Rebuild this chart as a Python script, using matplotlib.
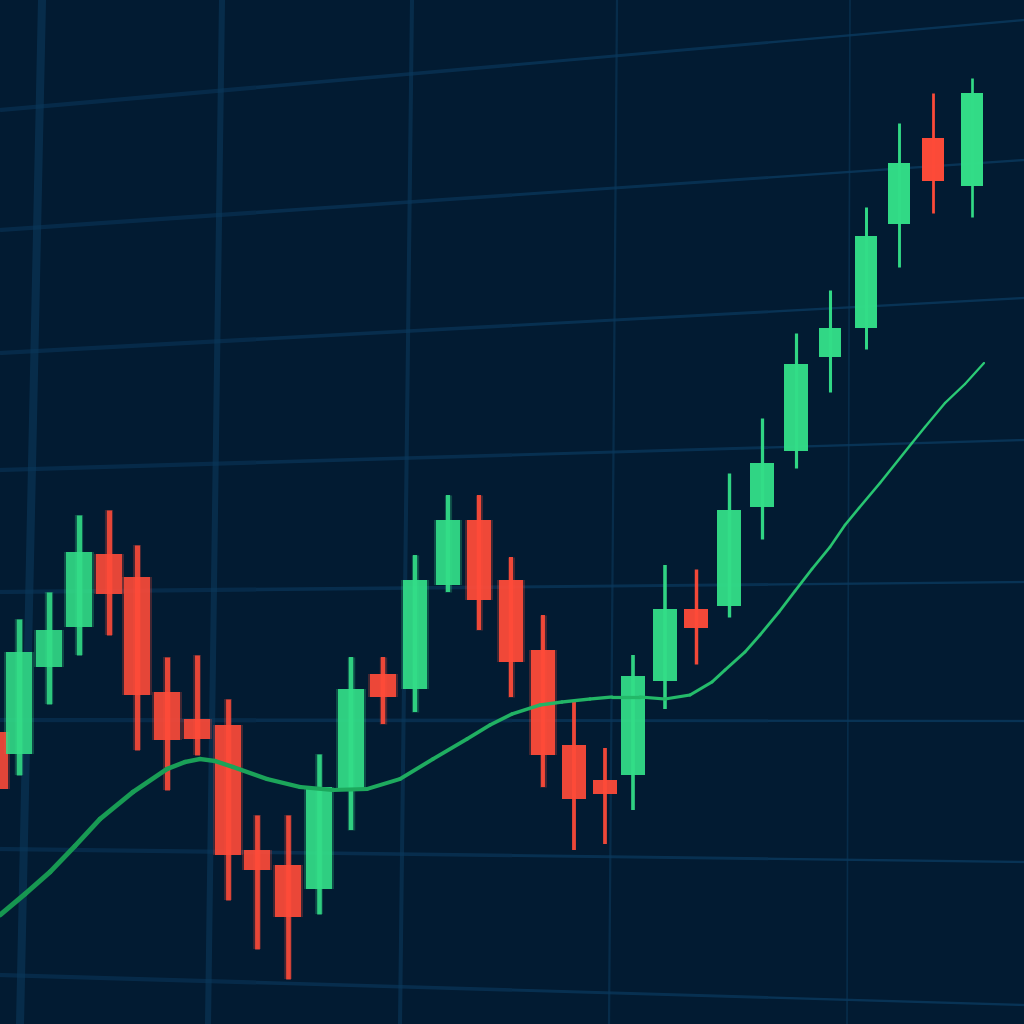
import numpy as np
import matplotlib
matplotlib.use("Agg")
import matplotlib.pyplot as plt
from matplotlib.collections import LineCollection
from matplotlib.colors import to_rgba

# candle data (x position, open, close, high, low)
x_pos = [-6, 19, 49, 79, 109, 137, 167, 197, 228, 257, 288, 319, 351, 383, 415, 448,
         479, 511, 543, 574, 605, 633, 665, 696, 729, 762, 796, 830, 866, 899, 933, 972]
opens = [292, 270, 357, 397, 470, 447, 332, 305, 299, 174, 159, 135, 234, 350, 335, 439,
         504, 444, 374, 279, 244, 249, 343, 415, 418, 517, 573, 667, 696, 800, 886, 838]
closes = [235, 372, 394, 472, 430, 329, 284, 285, 169, 154, 107, 237, 335, 327, 444, 504,
          424, 362, 269, 225, 230, 348, 415, 396, 514, 561, 660, 696, 788, 861, 843, 931]
highs = [319, 405, 432, 509, 514, 479, 367, 369, 325, 209, 209, 270, 367, 367, 469, 529,
         529, 467, 409, 324, 276, 369, 459, 455, 551, 606, 691, 734, 817, 901, 931, 946]
lows = [224, 249, 320, 369, 389, 274, 234, 269, 124, 75, 45, 110, 194, 300, 312, 432,
        394, 327, 237, 174, 180, 214, 315, 360, 407, 485, 556, 632, 675, 757, 811, 807]

# moving average line
ma_x = [0, 25, 50, 75, 100, 133, 167, 185, 200, 215, 233, 267, 300, 333, 367, 400, 433,
        467, 490, 512, 540, 562, 590, 612, 640, 665, 690, 712, 725, 745, 760, 779, 795,
        812, 830, 845, 859, 880, 912, 925, 945, 965, 984]
ma_y = [109, 130, 152, 178, 205, 232, 255, 262, 265, 263, 257, 245, 237, 234, 235, 245,
        265, 285, 299, 310, 319, 322, 325, 327, 327, 325, 329, 342, 354, 372, 389, 412,
        433, 455, 477, 499, 516, 541, 581, 597, 621, 640, 661]

BG = "#021b32"
GREEN = "#33de88"
RED = "#ff4b39"

# perspective grid (style only): x at top, x at bottom, width
grid_v = [(42, 20, 8), (222, 208, 6), (412, 400, 4), (617, 609, 2.2), (850, 847, 1.6)]
# y at left, y at right
grid_h = [(914, 1004), (794, 864), (671, 726), (554, 584), (432, 442), (304, 303),
          (175, 162), (49, 19)]

fig = plt.figure(figsize=(10.24, 10.24), dpi=100)
ax = fig.add_axes([0, 0, 1, 1])
ax.set_facecolor(BG)
fig.patch.set_facecolor(BG)
ax.set_xlim(0, 1024)
ax.set_ylim(0, 1024)
ax.axis("off")

for xt, xb, w in grid_v:
    ax.plot([xb, xt], [0, 1024], color="#08304f", lw=w * 0.72, alpha=0.85, zorder=1)
for yl, yr in grid_h:
    xs = np.array([0, 256, 512, 768, 1024])
    ys = yl + (yr - yl) * xs / 1024
    pts = np.column_stack([xs, ys])
    segs = np.stack([pts[:-1], pts[1:]], axis=1)
    f = xs[:-1] / 1024
    lc = LineCollection(segs, colors=[(0.04, 0.22, 0.36, 0.55 + 0.4 * v) for v in f],
                        linewidths=[3.0 - 1.8 * v for v in f], zorder=1)
    ax.add_collection(lc)

# candles
for x, o, c, h, l in zip(x_pos, opens, closes, highs, lows):
    col = GREEN if c >= o else RED
    t = min(max(x, 0), 1024) / 1024
    bw = 27 - 5 * t
    ww = 5.5 - 3 * t
    alpha = 0.85 + 0.15 * t
    if x < 560:
        # soft focus glow on the left side
        ax.vlines(x, l, h, color=col, lw=(ww + 3) * 0.72, alpha=0.25, zorder=2)
        ax.bar(x, abs(c - o), bottom=min(o, c), width=bw + 4, color=col,
               alpha=0.25, zorder=2, linewidth=0)
    ax.vlines(x, l, h, color=col, lw=ww * 0.72, alpha=alpha, zorder=3)
    ax.bar(x, abs(c - o), bottom=min(o, c), width=bw, color=col, alpha=alpha,
           zorder=3, linewidth=0)

# moving average, thicker and darker on the blurry left
pts = np.column_stack([ma_x, ma_y])
segs = np.stack([pts[:-1], pts[1:]], axis=1)
c0 = np.array(to_rgba("#169650"))
c1 = np.array(to_rgba("#2ccf78"))
fr = np.array(ma_x[:-1]) / 1024
cols = [tuple(c0 + (c1 - c0) * f) for f in fr]
widths = 3.6 - 2.1 * fr
lc = LineCollection(segs, colors=cols, linewidths=widths, capstyle="round",
                    joinstyle="round", zorder=4)
ax.add_collection(lc)

fig.savefig("out.png", dpi=100, facecolor=BG)
